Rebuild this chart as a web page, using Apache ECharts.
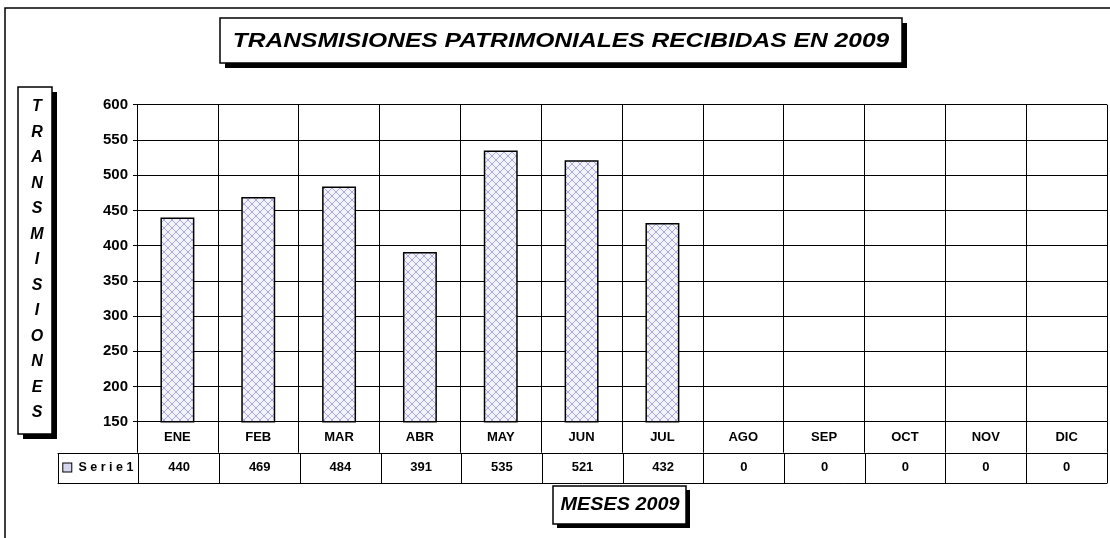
<!DOCTYPE html>
<html>
<head>
<meta charset="utf-8">
<script src="https://cdn.jsdelivr.net/npm/echarts@6/dist/echarts.min.js"></script>
<style>
  html, body { margin: 0; padding: 0; background: #fff; }
  #chart { width: 1110px; height: 538px; }
</style>
</head>
<body>
<div id="chart"></div>
<script>
// datos del gráfico
const meses = ['ENE', 'FEB', 'MAR', 'ABR', 'MAY', 'JUN', 'JUL', 'AGO', 'SEP', 'OCT', 'NOV', 'DIC'];
const serie1 = [440, 469, 484, 391, 535, 521, 432, 0, 0, 0, 0, 0];
const serieNombre = 'Serie1';
const yTicks = { min: 150, max: 600, interval: 50 };

const FONT = '"Liberation Sans", Arial, sans-serif';

// trama cruzada de las barras
function trama() {
    const c = document.createElement('canvas');
    c.width = 8; c.height = 8;
    const g = c.getContext('2d');
    g.fillStyle = '#f3f3fc';
    g.fillRect(0, 0, 8, 8);
    g.strokeStyle = '#a8a8da';
    g.lineWidth = 1;
    g.beginPath();
    g.moveTo(0, 0); g.lineTo(8, 8);
    g.moveTo(8, 0); g.lineTo(0, 8);
    g.stroke();
    return c;
}

// fila de la tabla: leyenda + valores
const filaTabla = [serieNombre].concat(serie1.map(String));

// caja con sombra negra
function caja(x, y, w, h, sombra) {
    return [
        { type: 'rect', shape: { x: x + sombra, y: y + sombra, width: w, height: h },
          style: { fill: '#000' }, silent: true },
        { type: 'rect', shape: { x: x, y: y, width: w, height: h },
          style: { fill: '#fff', stroke: '#000', lineWidth: 1.5 }, silent: true }
    ];
}

const chart = echarts.init(document.getElementById('chart'), null, { renderer: 'canvas' });

const option = {
    animation: false,
    backgroundColor: '#fff',
    grid: [
        { left: 137, right: 3, top: 104.7, bottom: 116.3 },
        { left: 58, right: 3, top: 453, bottom: 55 }
    ],
    xAxis: [
        {
            type: 'category', gridIndex: 0, data: meses,
            axisLine: { lineStyle: { color: '#000', width: 1 } },
            axisTick: { show: true, length: 31, lineStyle: { color: '#000' } },
            axisLabel: { color: '#000', fontFamily: FONT, fontWeight: 'bold', fontSize: 13, margin: 9, interval: 0 },
            splitLine: { show: true, lineStyle: { color: '#000', width: 1 } }
        },
        {
            type: 'category', gridIndex: 1, position: 'bottom',
            data: filaTabla.map((v, i) => 'c' + i),
            axisLine: { lineStyle: { color: '#000', width: 1 } },
            axisTick: { show: true, inside: true, length: 30, lineStyle: { color: '#000' } },
            axisLabel: {
                inside: true, margin: 9, interval: 0,
                color: '#000', fontFamily: FONT, fontWeight: 'bold', fontSize: 13,
                formatter: (v, i) => i === 0 ? '{box|}  {s|' + filaTabla[0].split('').join(' ') + '}' : filaTabla[i],
                rich: {
                    box: { width: 8, height: 8, borderColor: '#000', borderWidth: 1, backgroundColor: '#d6d6ef' },
                    s: { fontFamily: FONT, fontWeight: 'bold', fontSize: 12.5, color: '#000' }
                }
            },
            splitLine: { show: false }
        },
        {
            type: 'category', gridIndex: 1, position: 'top',
            data: filaTabla.map((v, i) => 't' + i),
            axisLine: { lineStyle: { color: '#000', width: 1 } },
            axisTick: { show: false },
            axisLabel: { show: false },
            splitLine: { show: false }
        }
    ],
    yAxis: [
        {
            type: 'value', gridIndex: 0,
            min: yTicks.min, max: yTicks.max, interval: yTicks.interval,
            axisLine: { show: true, lineStyle: { color: '#000', width: 1 } },
            axisTick: { show: true, length: 4, lineStyle: { color: '#000' } },
            axisLabel: { color: '#000', fontFamily: FONT, fontWeight: 'bold', fontSize: 15, margin: 9 },
            splitLine: { show: true, lineStyle: { color: '#000', width: 1 } }
        },
        { type: 'value', gridIndex: 1, show: false }
    ],
    series: [{
        name: serieNombre,
        type: 'bar',
        xAxisIndex: 0, yAxisIndex: 0,
        data: serie1,
        barWidth: '42%',
        clip: true,
        itemStyle: {
            color: { image: trama(), repeat: 'repeat' },
            borderColor: '#000',
            borderWidth: 1.5
        }
    }],
    graphic: [
        // marco exterior
        { type: 'rect', shape: { x: 5, y: 8, width: 1120, height: 600 },
          style: { fill: 'none', stroke: '#000', lineWidth: 1.5 }, silent: true },
        ...caja(220, 18, 682, 45, 5),
        { type: 'text', x: 561, y: 41, scaleX: 1.23,
          style: { text: 'TRANSMISIONES PATRIMONIALES RECIBIDAS EN 2009', fill: '#000',
                   font: 'italic bold 20px ' + FONT, align: 'center', verticalAlign: 'middle' } },
        ...caja(18, 87, 34, 347, 5),
        { type: 'text', x: 37, y: 260,
          style: { text: 'TRANSMISIONES'.split('').join('\n'), fill: '#000', lineHeight: 25.5,
                   font: 'italic bold 16px ' + FONT, align: 'center', verticalAlign: 'middle' } },
        ...caja(553, 486, 133, 38, 4),
        { type: 'text', x: 620, y: 505, scaleX: 1.1,
          style: { text: 'MESES 2009', fill: '#000',
                   font: 'italic bold 18px ' + FONT, align: 'center', verticalAlign: 'middle' } }
    ]
};

chart.setOption(option);
window.addEventListener('resize', () => chart.resize());
</script>
</body>
</html>
